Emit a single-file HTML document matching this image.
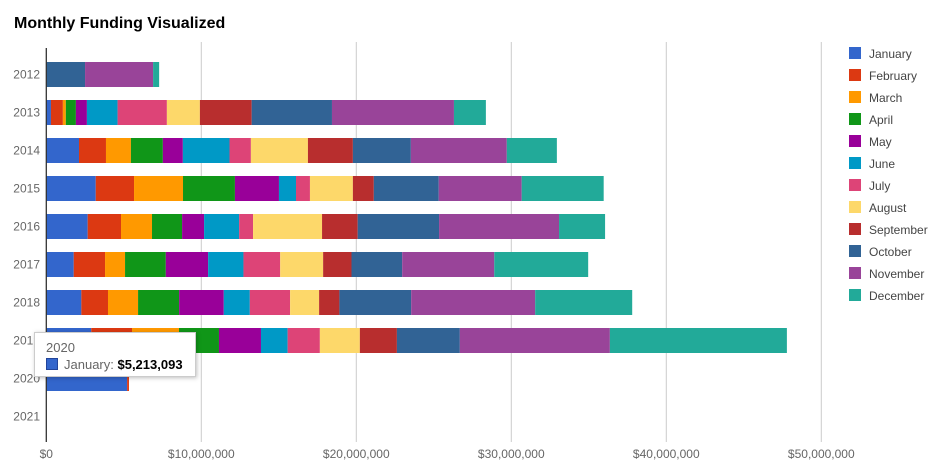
<!DOCTYPE html>
<html><head><meta charset="utf-8"><style>
body{margin:0;background:#fff;width:942px;height:473px;overflow:hidden;font-family:"Liberation Sans",Arial,sans-serif}
svg{display:block}
</style></head><body>
<svg id="chart" width="942" height="473">
<text x="14" y="28" font-size="16" font-weight="bold" fill="#000">Monthly Funding Visualized</text>
<g id="grid"></g><g id="bars"></g><g id="axes"></g><g id="legend"></g>
<g>
<rect x="34.5" y="332.5" width="161" height="44" fill="#fff" stroke="#ccc" style="filter:drop-shadow(1px 1px 2px rgba(0,0,0,0.25))"/>
<text x="46" y="352" font-size="13" fill="#666">2020</text>
<rect x="46.5" y="358.5" width="11" height="11" fill="#3366cc" stroke="#22449a"/>
<text x="64" y="369" font-size="13" fill="#666">January: <tspan font-weight="bold" fill="#000">$5,213,093</tspan></text>
</g>
</svg>
<script>
const years=["2012","2013","2014","2015","2016","2017","2018","2019","2020","2021"];
const months=["January","February","March","April","May","June","July","August","September","October","November","December"];
const colors=["#3366cc","#dc3912","#ff9900","#109618","#990099","#0099c6","#dd4477","#fdd86a","#b82e2e","#316395","#994499","#22aa99"];
const v2012=[0,0,0,0,0,0,0,0,0,2.50,4.39,0.39];
const v2013=[0.30,0.77,0.19,0.65,0.71,1.98,3.18,2.13,3.34,5.18,7.87,2.06];
const v2014=[2.11,1.74,1.61,2.06,1.29,3.01,1.38,3.68,2.90,3.74,6.19,3.23];
const v2015=[3.19,2.47,3.16,3.35,2.84,1.10,0.90,2.77,1.35,4.19,5.35,5.29];
const v2016=[2.67,2.15,2.00,1.94,1.42,2.26,0.90,4.45,2.30,5.25,7.74,2.97];
const v2017=[1.77,2.02,1.29,2.63,2.73,2.28,2.37,2.77,1.83,3.27,5.94,6.06];
const v2018=[2.26,1.72,1.94,2.65,2.88,1.68,2.60,1.87,1.31,4.63,8.00,6.26];
const v2019=[2.90,2.63,3.03,2.58,2.71,1.72,2.08,2.58,2.39,4.06,9.68,11.42];
const v2020=[5.213,0.12,0,0,0,0,0,0,0,0,0,0];
const v2021=[0,0,0,0,0,0,0,0,0,0,0,0];
const series=[v2012,v2013,v2014,v2015,v2016,v2017,v2018,v2019,v2020,v2021];
const ticks=[0,10,20,30,40,50];
const tickLabels=["$0","$10,000,000","$20,000,000","$30,000,000","$40,000,000","$50,000,000"];
const NS="http://www.w3.org/2000/svg";
const x0=46.3,pxPerM=15.5;
const xs=v=>x0+v*pxPerM;
const yc=i=>74.5+i*38;
function mk(tag,attrs,parent){const e=document.createElementNS(NS,tag);for(const k in attrs)e.setAttribute(k,attrs[k]);parent.appendChild(e);return e;}
const grid=document.getElementById('grid'),bars=document.getElementById('bars'),axes=document.getElementById('axes'),legend=document.getElementById('legend');
ticks.forEach((t,i)=>{
  if(i>0){const l=mk('line',{x1:xs(t),x2:xs(t),y1:42,y2:442,stroke:'#ccc','stroke-width':1},grid);
  
  }
  const tx=mk('text',{x:xs(t),y:458,'font-size':12,fill:'#666','text-anchor':'middle'},axes);
  tx.textContent=tickLabels[i];
  
  
});
const ax=mk('line',{x1:x0,x2:x0,y1:48,y2:442,stroke:'#333','stroke-width':1.3},axes);


years.forEach((y,i)=>{
  const tx=mk('text',{x:40,y:yc(i)+4,'font-size':12,fill:'#666','text-anchor':'end'},axes);
  tx.textContent=y;
  
  
  let acc=0;
  series[i].forEach((v,m)=>{
    if(v<=0)return;
    const r=mk('rect',{x:xs(acc),y:yc(i)-12.5,width:v*pxPerM,height:25,fill:colors[m]},bars);
    
    
    acc+=v;
  });
});
months.forEach((m,i)=>{
  const r=mk('rect',{x:849,y:47+i*22,width:12,height:12,fill:colors[i]},legend);
  
  
  const t=mk('text',{x:869,y:58+i*22,'font-size':12,fill:'#444'},legend);
  t.textContent=m;
  
  
});
</script>
</body></html>
